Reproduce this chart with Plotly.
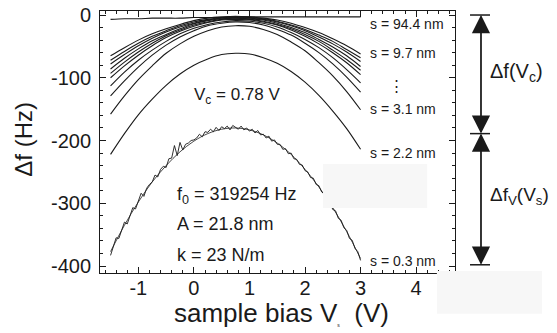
import plotly.graph_objects as go

# ---------------- data ----------------
bias_v = [-1.5, -1.25, -1.0, -0.75, -0.5, -0.25, 0.0, 0.25, 0.5, 0.75,
          1.0, 1.25, 1.5, 1.75, 2.0, 2.25, 2.5, 2.75, 3.0]

df_s94_4 = [-7, -6, -6, -5, -5, -5, -4, -4, -4, -3, -3, -3, -3, -3, -3, -3, -3, -3, -3]
df_s9_7 = [-65, -52, -40, -30, -22, -15, -9, -5, -3, -2, -3, -5, -8, -13, -20, -28, -38, -49, -62]
df_mid_a = [-72, -58, -45, -34, -25, -17, -11, -7, -4, -3, -4, -6, -10, -16, -23, -32, -42, -55, -68]
df_mid_b = [-78, -63, -49, -37, -27, -19, -13, -8, -5, -4, -5, -7, -11, -17, -25, -35, -46, -59, -74]
df_mid_c = [-86, -69, -54, -41, -31, -22, -14, -9, -6, -5, -6, -8, -13, -20, -28, -39, -51, -65, -82]
df_mid_d = [-93, -75, -59, -45, -33, -24, -16, -11, -7, -6, -7, -10, -15, -22, -31, -42, -56, -71, -88]
df_mid_e = [-100, -81, -64, -49, -36, -26, -18, -12, -8, -7, -8, -11, -16, -24, -34, -46, -60, -76, -95]
df_mid_f = [-113, -91, -72, -56, -42, -30, -21, -15, -11, -9, -10, -13, -19, -28, -39, -52, -68, -87, -108]
df_mid_g = [-129, -105, -83, -64, -48, -35, -25, -17, -13, -11, -12, -16, -23, -32, -45, -60, -78, -99, -123]
df_s3_1 = [-158, -129, -103, -81, -61, -46, -34, -25, -19, -17, -18, -23, -31, -43, -57, -76, -97, -122, -151]
df_s2_2 = [-222, -189, -159, -134, -112, -94, -80, -70, -63, -61, -62, -68, -77, -90, -107, -128, -153, -181, -214]
df_s0_3_fit = [-377, -335, -298, -266, -240, -218, -201, -189, -182, -180, -183, -191, -204, -222, -246, -274, -307, -345, -388]

bias_v_fine = [round(-1.5 + 0.05 * i, 2) for i in range(91)]
df_s0_3_raw = [-383, -370, -355, -356, -341, -330, -333, -318, -307, -309,
               -297, -284, -289, -276, -270, -266, -255, -258, -246, -241,
               -243, -229, -228, -208, -224, -203, -215, -206, -204, -200,
               -199, -196, -190, -194, -186, -187, -182, -186, -179, -184,
               -178, -181, -177, -183, -176, -179, -182, -177, -183, -180,
               -185, -182, -188, -184, -191, -190, -196, -193, -201, -199,
               -206, -206, -214, -213, -221, -220, -229, -230, -238, -239,
               -248, -250, -259, -260, -270, -272, -282, -285, -295, -298,
               -310, -312, -324, -327, -339, -343, -356, -359, -372, -377, -391]

x_tick_vals = [-1, 0, 1, 2, 3, 4]
x_tick_text = ["-1", "0", "1", "2", "3", "4"]
y_tick_vals = [0, -100, -200, -300, -400]
y_tick_text = ["0", "-100", "-200", "-300", "-400"]

arrow_levels = [0, -189, -398]

# ---------------- figure ----------------
FONT = "Liberation Sans, Arial, sans-serif"
INK = "#1a1a1a"

fig = go.Figure()
smooth_curves = [df_s94_4, df_s9_7, df_mid_a, df_mid_b, df_mid_c, df_mid_d,
                 df_mid_e, df_mid_f, df_mid_g, df_s3_1, df_s2_2]
for ys in smooth_curves:
    fig.add_trace(go.Scatter(x=bias_v, y=ys, mode="lines",
                             line=dict(color=INK, width=1.1, shape="spline"),
                             showlegend=False, hoverinfo="skip"))
fig.add_trace(go.Scatter(x=bias_v_fine, y=df_s0_3_raw, mode="lines",
                         line=dict(color=INK, width=0.9),
                         showlegend=False, hoverinfo="skip"))
fig.add_trace(go.Scatter(x=bias_v, y=df_s0_3_fit, mode="lines",
                         line=dict(color=INK, width=0.8, shape="spline"),
                         showlegend=False, hoverinfo="skip"))

axis_common = dict(
    showline=True, linecolor=INK, linewidth=1, mirror="allticks",
    ticks="inside", ticklen=6, tickwidth=1, tickcolor=INK,
    showgrid=False, zeroline=False, automargin=False,
    ticklabeloverflow="allow",
    tickfont=dict(family=FONT, size=20, color=INK),
)

fig.update_xaxes(range=[-1.69, 4.70], tickvals=x_tick_vals, ticktext=x_tick_text,
                 minor=dict(dtick=0.2, ticks="inside", ticklen=3, tickcolor=INK, showgrid=False),
                 ticklabelstandoff=-3,
                 **axis_common)
fig.update_yaxes(range=[-411.1, 6.4], tickvals=y_tick_vals, ticktext=y_tick_text,
                 minor=dict(dtick=20, ticks="inside", ticklen=3, tickcolor=INK, showgrid=False),
                 ticklabelstandoff=4,
                 **axis_common)

ann = []
def txt(x, y, s, size, xref="x", yref="y", xanchor="left", angle=0):
    ann.append(dict(x=x, y=y, xref=xref, yref=yref, text=s, showarrow=False,
                    xanchor=xanchor, yanchor="middle", textangle=angle,
                    font=dict(family=FONT, size=size, color=INK)))

# axis titles
txt(0.51, -0.152, "sample bias V<sub><span style='font-size:5px'>s</span></sub>  (V)", 26,
    xref="paper", yref="paper", xanchor="center")
txt(-0.216, 0.51, "Δf (Hz)", 24, xref="paper", yref="paper", xanchor="center", angle=-90)

txt(-0.04, -129, "V<sub>c</sub> = 0.78 V", 17)
txt(-0.34, -288, "f<sub>0</sub> = 319254 Hz", 18)
txt(-0.34, -333, "A = 21.8 nm", 18)
txt(-0.34, -382, "k = 23 N/m", 18)
txt(3.135, -14, "s = 94.4 nm", 14)
txt(3.135, -61, "s = 9.7 nm", 14)
txt(3.64, -112, "⋮", 15, xanchor="center")
txt(3.135, -150, "s = 3.1 nm", 14)
txt(3.135, -220, "s = 2.2 nm", 14)
txt(3.135, -392, "s = 0.3 nm", 14)
txt(1.0930, -92, "Δf(V<sub>c</sub>)", 20, xref="paper")
txt(1.0930, -288, "Δf<sub>V</sub>(V<sub>s</sub>)", 19, xref="paper")

ARROW_X = 1.0732
for head, tail in [(arrow_levels[0], arrow_levels[1]), (arrow_levels[1], arrow_levels[0]),
                   (arrow_levels[1], arrow_levels[2]), (arrow_levels[2], arrow_levels[1])]:
    ann.append(dict(x=ARROW_X, y=head, xref="paper", yref="y",
                    ax=0, ay=tail, axref="pixel", ayref="y",
                    text="", showarrow=True, arrowhead=2, arrowsize=2.8,
                    arrowwidth=1.3, arrowcolor=INK))

shapes = []
for lv in arrow_levels:
    shapes.append(dict(type="line", xref="paper", yref="y", x0=1.0423, x1=1.0986,
                       y0=lv, y1=lv, line=dict(color=INK, width=1.5)))
# faint pasted patches present in the reference image
shapes.append(dict(type="rect", xref="x", yref="y", x0=2.324, x1=4.198, y0=-237.5, y1=-307.6,
                   fillcolor="#f7f7f7", line=dict(width=0), layer="above"))
shapes.append(dict(type="rect", xref="paper", yref="paper", x0=0.949, x1=1.245, y0=0.0076, y1=-0.156,
                   fillcolor="#f7f7f7", line=dict(width=0), layer="above"))

# the page adds an 8 px body margin, so the figure is 8 px smaller and margins shifted
fig.update_layout(width=549, height=325,
                  margin=dict(l=92, r=102, t=3, b=60, autoexpand=False),
                  plot_bgcolor="white", paper_bgcolor="white",
                  annotations=ann, shapes=shapes,
                  font=dict(family=FONT, color=INK))

fig.write_html("out.html")
